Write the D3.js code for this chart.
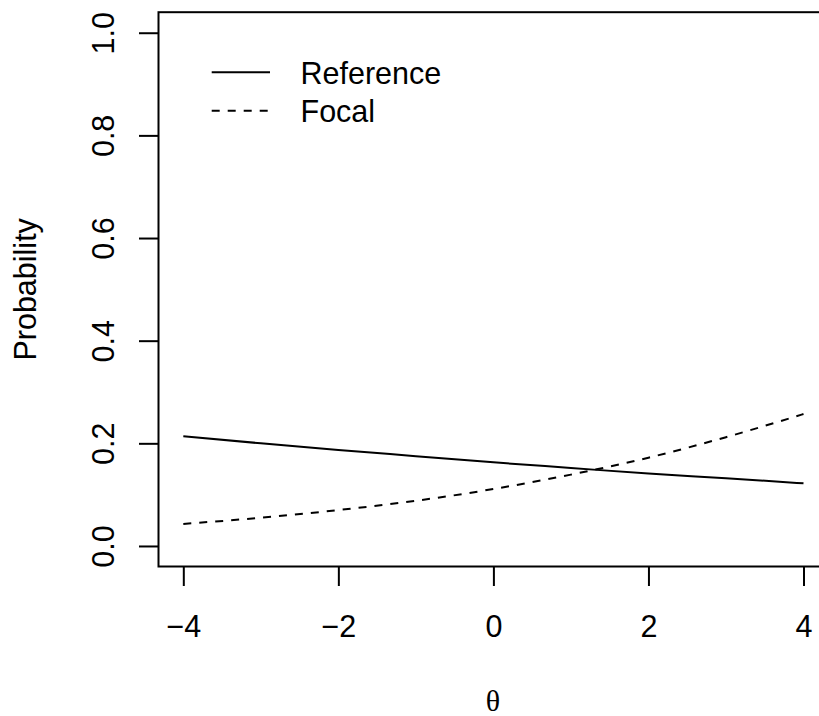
<!DOCTYPE html>
<html>
<head>
<meta charset="utf-8">
<script src="https://cdn.jsdelivr.net/npm/d3@7"></script>
<style>
  html, body { margin: 0; padding: 0; background: #fff; }
  svg { display: block; }
  text { font-family: "Liberation Sans", Arial, Helvetica, sans-serif; fill: #000; }
</style>
</head>
<body>
<svg id="chart" width="819" height="716"></svg>
<script>
// values
const theta = [-4, -3, -2, -1, 0, 1, 2, 3, 4];
const reference = [0.214, 0.200, 0.187, 0.175, 0.163, 0.152, 0.141, 0.132, 0.122];
const focal = [0.043, 0.055, 0.070, 0.088, 0.111, 0.139, 0.172, 0.212, 0.257];
const xTicks = [-4, -2, 0, 2, 4];
const yTicks = [0, 0.2, 0.4, 0.6, 0.8, 1.0];
const legendLabels = ['Reference', 'Focal'];

(function () {
  const FONT = 30.5;
  const TICK = 19.5;
  const DASH = '8,8';

  // plot region (R pads the data range by 4% each side)
  const left = 158.5, right = 828.3, top = 12.2, bottom = 566.5;
  const pad = (a, b) => [a - (b - a) * 0.04, b + (b - a) * 0.04];

  const x = d3.scaleLinear().domain(pad(-4, 4)).range([left, right]);
  const y = d3.scaleLinear().domain(pad(0, 1)).range([bottom, top]);

  const svg = d3.select('#chart');

  // curves
  const line = d3.line()
    .x((d) => x(d[0]))
    .y((d) => y(d[1]))
    .curve(d3.curveMonotoneX);

  svg.append('path')
    .datum(d3.zip(theta, reference))
    .attr('d', line)
    .attr('fill', 'none')
    .attr('stroke', '#000')
    .attr('stroke-width', 2);

  svg.append('path')
    .datum(d3.zip(theta, focal))
    .attr('d', line)
    .attr('fill', 'none')
    .attr('stroke', '#000')
    .attr('stroke-width', 2)
    .attr('stroke-dasharray', DASH);

  // box
  svg.append('rect')
    .attr('x', left).attr('y', top)
    .attr('width', right - left).attr('height', bottom - top)
    .attr('fill', 'none')
    .attr('stroke', '#000')
    .attr('stroke-width', 2);

  // x axis
  const gx = svg.append('g')
    .attr('transform', 'translate(0,' + bottom + ')')
    .call(d3.axisBottom(x).tickValues(xTicks).tickSize(TICK).tickPadding(0).tickFormat(d3.format('d')));
  gx.select('.domain').remove();
  gx.selectAll('.tick line').attr('stroke', '#000').attr('stroke-width', 2);
  gx.selectAll('.tick text')
    .attr('y', 636.7 - bottom)
    .attr('dy', null)
    .attr('font-size', FONT)
    .attr('font-family', '"Liberation Sans", Arial, sans-serif')
    .attr('fill', '#000');

  // y axis (labels parallel to the axis)
  const gy = svg.append('g')
    .attr('transform', 'translate(' + left + ',0)')
    .call(d3.axisLeft(y).tickValues(yTicks).tickSize(TICK).tickPadding(0).tickFormat(d3.format('.1f')));
  gy.select('.domain').remove();
  gy.selectAll('.tick line').attr('stroke', '#000').attr('stroke-width', 2);
  gy.selectAll('.tick text')
    .attr('x', null)
    .attr('dy', null)
    .attr('transform', 'translate(' + (113.5 - left) + ',0) rotate(-90)')
    .attr('text-anchor', 'middle')
    .attr('font-size', FONT)
    .attr('font-family', '"Liberation Sans", Arial, sans-serif')
    .attr('fill', '#000');

  // axis titles
  svg.append('text')
    .attr('transform', 'translate(36,' + ((top + bottom) / 2) + ') rotate(-90)')
    .attr('text-anchor', 'middle')
    .attr('font-size', FONT)
    .text('Probability');

  svg.append('text')
    .attr('x', (left + right) / 2 - 0.5)
    .attr('y', 711)
    .attr('text-anchor', 'middle')
    .attr('font-size', 30)
    .style('font-family', '"Liberation Serif", "DejaVu Serif", serif')
    .text('θ');

  // legend
  const lg = svg.append('g');
  const rowY = [72.3, 110.7];
  legendLabels.forEach((lab, i) => {
    lg.append('line')
      .attr('x1', 211.7).attr('x2', 270)
      .attr('y1', rowY[i]).attr('y2', rowY[i])
      .attr('stroke', '#000')
      .attr('stroke-width', 2)
      .attr('stroke-dasharray', i === 1 ? DASH : null);
    lg.append('text')
      .attr('x', 300.5)
      .attr('y', rowY[i] + 11.5)
      .attr('font-size', FONT)
      .text(lab);
  });
})();
</script>
</body>
</html>
